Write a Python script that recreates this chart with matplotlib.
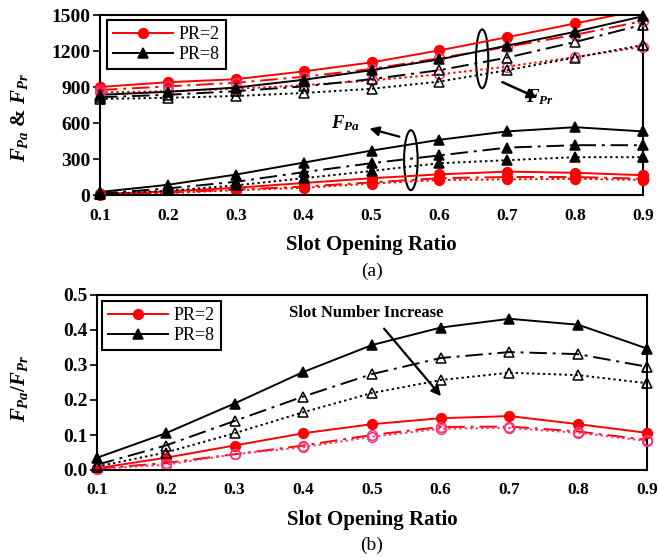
import numpy as np
import matplotlib
matplotlib.use('Agg')
import matplotlib.pyplot as plt
from matplotlib.patches import Ellipse

plt.rcParams['font.family'] = ['Liberation Serif', 'DejaVu Serif']
plt.rcParams['mathtext.fontset'] = 'custom'
plt.rcParams['mathtext.rm'] = 'Liberation Serif:bold'
plt.rcParams['mathtext.it'] = 'Liberation Serif:italic:bold'
plt.rcParams['mathtext.bf'] = 'Liberation Serif:bold'

# 槽口开口比
slot_ratio = [0.1, 0.2, 0.3, 0.4, 0.5, 0.6, 0.7, 0.8, 0.9]

# (a) F_Pr 径向力
fpr_pr2_s1 = [900, 940, 965, 1030, 1105, 1205, 1315, 1430, 1545]
fpr_pr2_s2 = [875, 905, 935, 985, 1050, 1140, 1235, 1335, 1450]
fpr_pr2_s3 = [855, 865, 885, 915, 955, 1005, 1070, 1150, 1235]
fpr_pr8_s1 = [835, 860, 895, 960, 1040, 1130, 1245, 1360, 1490]
fpr_pr8_s2 = [815, 835, 865, 905, 965, 1040, 1145, 1275, 1420]
fpr_pr8_s3 = [800, 810, 825, 850, 885, 945, 1040, 1145, 1250]

# (a) F_Pa 轴向力
fpa_pr2_s1 = [8, 30, 60, 100, 140, 172, 195, 185, 165]
fpa_pr2_s2 = [5, 20, 45, 70, 105, 140, 150, 150, 135]
fpa_pr2_s3 = [3, 15, 40, 60, 95, 125, 130, 135, 125]
fpa_pr8_s1 = [25, 85, 170, 270, 370, 460, 530, 565, 530]
fpa_pr8_s2 = [12, 55, 110, 190, 265, 330, 395, 415, 415]
fpa_pr8_s3 = [6, 35, 80, 140, 200, 265, 290, 315, 315]

# (b) F_Pa / F_Pr
ratio_pr2_s1 = [0.005, 0.035, 0.07, 0.105, 0.131, 0.148, 0.154, 0.131, 0.106]
ratio_pr2_s2 = [0.004, 0.02, 0.045, 0.07, 0.1, 0.123, 0.124, 0.11, 0.086]
ratio_pr2_s3 = [0.003, 0.015, 0.045, 0.065, 0.095, 0.118, 0.12, 0.106, 0.083]
ratio_pr8_s1 = [0.035, 0.105, 0.19, 0.28, 0.357, 0.407, 0.432, 0.415, 0.347]
ratio_pr8_s2 = [0.015, 0.07, 0.14, 0.21, 0.274, 0.32, 0.337, 0.331, 0.295]
ratio_pr8_s3 = [0.01, 0.05, 0.105, 0.165, 0.22, 0.257, 0.278, 0.271, 0.248]

RED = '#FF0000'
PINK = '#FF3377'
DASHDOT = (0, (9, 3, 1.5, 3))
DOTTED = (0, (1.2, 1.6))


def draw(ax, y, ymax, color, ls, marker, filled, mcolor=None, label=None):
    mcolor = mcolor or color
    ax.plot(slot_ratio, y, color=color, linestyle=ls, linewidth=1.4, label=label,
            marker=marker, markersize=7, markerfacecolor=mcolor if filled else 'none',
            markeredgecolor=mcolor, markeredgewidth=1.1)
    # 边缘上的标记不裁剪
    xs = [x for x, v in zip(slot_ratio, y) if v <= ymax and x in (0.1, 0.9)]
    vs = [v for x, v in zip(slot_ratio, y) if v <= ymax and x in (0.1, 0.9)]
    ax.plot(xs, vs, linestyle='none', marker=marker, markersize=7, clip_on=False,
            markerfacecolor=mcolor if filled else 'none', markeredgecolor=mcolor,
            markeredgewidth=1.1, zorder=5)


def style_axes(ax):
    for s in ax.spines.values():
        s.set_linewidth(1.5)
        s.set_color('black')
    ax.tick_params(axis='y', direction='out', length=5, width=1.2, labelsize=14, pad=2)
    ax.tick_params(axis='x', length=0, labelsize=12.5, pad=9)
    for lab in ax.get_xticklabels() + ax.get_yticklabels():
        lab.set_fontweight('bold')
    ax.set_xlim(0.1, 0.9)
    ax.set_xticks(slot_ratio)
    ax.set_xticklabels(['%.1f' % v for v in slot_ratio])


def add_legend(ax, anchor):
    leg = ax.legend(loc='upper left', bbox_to_anchor=anchor, borderaxespad=0,
                    fontsize=13, handlelength=3.3, fancybox=False, edgecolor='black',
                    framealpha=1, borderpad=0.35, labelspacing=0.15, handletextpad=0.3)
    leg.get_frame().set_linewidth(1.5)
    return leg


fig = plt.figure(figsize=(6.58, 5.58), dpi=100)

# ---------- (a) ----------
ax1 = fig.add_axes([100 / 658, 1 - 195 / 558, 543 / 658, 180 / 558])
ymax1 = 1500
draw(ax1, fpr_pr2_s1, ymax1, RED, '-', 'o', True, label='PR=2')
draw(ax1, fpr_pr2_s2, ymax1, RED, DASHDOT, 'o', False, PINK)
draw(ax1, fpr_pr2_s3, ymax1, RED, DOTTED, 'o', False, PINK)
draw(ax1, fpr_pr8_s1, ymax1, 'black', '-', '^', True, label='PR=8')
draw(ax1, fpr_pr8_s2, ymax1, 'black', DASHDOT, '^', False)
draw(ax1, fpr_pr8_s3, ymax1, 'black', DOTTED, '^', False)
draw(ax1, fpa_pr2_s1, ymax1, RED, '-', 'o', True)
draw(ax1, fpa_pr2_s2, ymax1, RED, DASHDOT, 'o', True)
draw(ax1, fpa_pr2_s3, ymax1, RED, DOTTED, 'o', True)
draw(ax1, fpa_pr8_s1, ymax1, 'black', '-', '^', True)
draw(ax1, fpa_pr8_s2, ymax1, 'black', DASHDOT, '^', True)
draw(ax1, fpa_pr8_s3, ymax1, 'black', DOTTED, '^', True)
ax1.set_ylim(0, 1500)
ax1.set_yticks([0, 300, 600, 900, 1200, 1500])
style_axes(ax1)
add_legend(ax1, (0.013, 0.972))

ax1.add_patch(Ellipse((0.663, 1135), 0.018, 490, fill=False, edgecolor='black', lw=1.5))
ax1.annotate('', xy=(0.748, 800), xytext=(0.689, 950),
             arrowprops=dict(arrowstyle='-|>', color='black', lw=1.8, mutation_scale=14))
ax1.text(0.728, 815, r'$F_{Pr}$', fontsize=13.5, ha='left', va='center')
ax1.add_patch(Ellipse((0.558, 290), 0.02, 500, fill=False, edgecolor='black', lw=1.5))
ax1.annotate('', xy=(0.493, 560), xytext=(0.545, 480),
             arrowprops=dict(arrowstyle='-|>', color='black', lw=1.6, mutation_scale=14))
ax1.text(0.44, 600, r'$F_{Pa}$', fontsize=13.5, ha='left', va='center')

fig.text(0.5 * (100 + 643) / 658, 1 - 245 / 558, 'Slot Opening Ratio',
         ha='center', va='center', fontsize=15, fontweight='bold')
fig.text(0.5 * (100 + 643) / 658, 1 - 271 / 558, '(a)', ha='center', va='center', fontsize=14)
fig.text(20 / 658, 1 - 117 / 558, r'$F_{Pa}$ & $F_{Pr}$', rotation=90, ha='center',
         va='center', fontsize=15, fontweight='bold')

# ---------- (b) ----------
ax2 = fig.add_axes([97 / 658, 1 - 470 / 558, 550 / 658, 175 / 558])
ymax2 = 0.5
draw(ax2, ratio_pr2_s1, ymax2, RED, '-', 'o', True, label='PR=2')
draw(ax2, ratio_pr2_s2, ymax2, RED, DASHDOT, 'o', False, PINK)
draw(ax2, ratio_pr2_s3, ymax2, PINK, DOTTED, 'o', False, PINK)
draw(ax2, ratio_pr8_s1, ymax2, 'black', '-', '^', True, label='PR=8')
draw(ax2, ratio_pr8_s2, ymax2, 'black', DASHDOT, '^', False)
draw(ax2, ratio_pr8_s3, ymax2, 'black', DOTTED, '^', False)
ax2.set_ylim(0, 0.5)
ax2.set_yticks([0, 0.1, 0.2, 0.3, 0.4, 0.5])
ax2.set_yticklabels(['%.1f' % v for v in [0, 0.1, 0.2, 0.3, 0.4, 0.5]])
style_axes(ax2)
add_legend(ax2, (0.009, 0.966))

ax2.text(0.491, 0.449, 'Slot Number Increase', ha='center', va='center',
         fontsize=12, fontweight='bold')
ax2.annotate('', xy=(0.603, 0.205), xytext=(0.515, 0.41),
             arrowprops=dict(arrowstyle='-|>', color='black', lw=1.6, mutation_scale=14))

fig.text(0.5 * (97 + 647) / 658, 1 - 520 / 558, 'Slot Opening Ratio',
         ha='center', va='center', fontsize=15, fontweight='bold')
fig.text(0.5 * (97 + 647) / 658, 1 - 545 / 558, '(b)', ha='center', va='center', fontsize=14)
fig.text(20 / 658, 1 - 388 / 558, r'$F_{Pa}/F_{Pr}$', rotation=90, ha='center',
         va='center', fontsize=15)

fig.savefig('out.png', dpi=100)
plt.close(fig)
